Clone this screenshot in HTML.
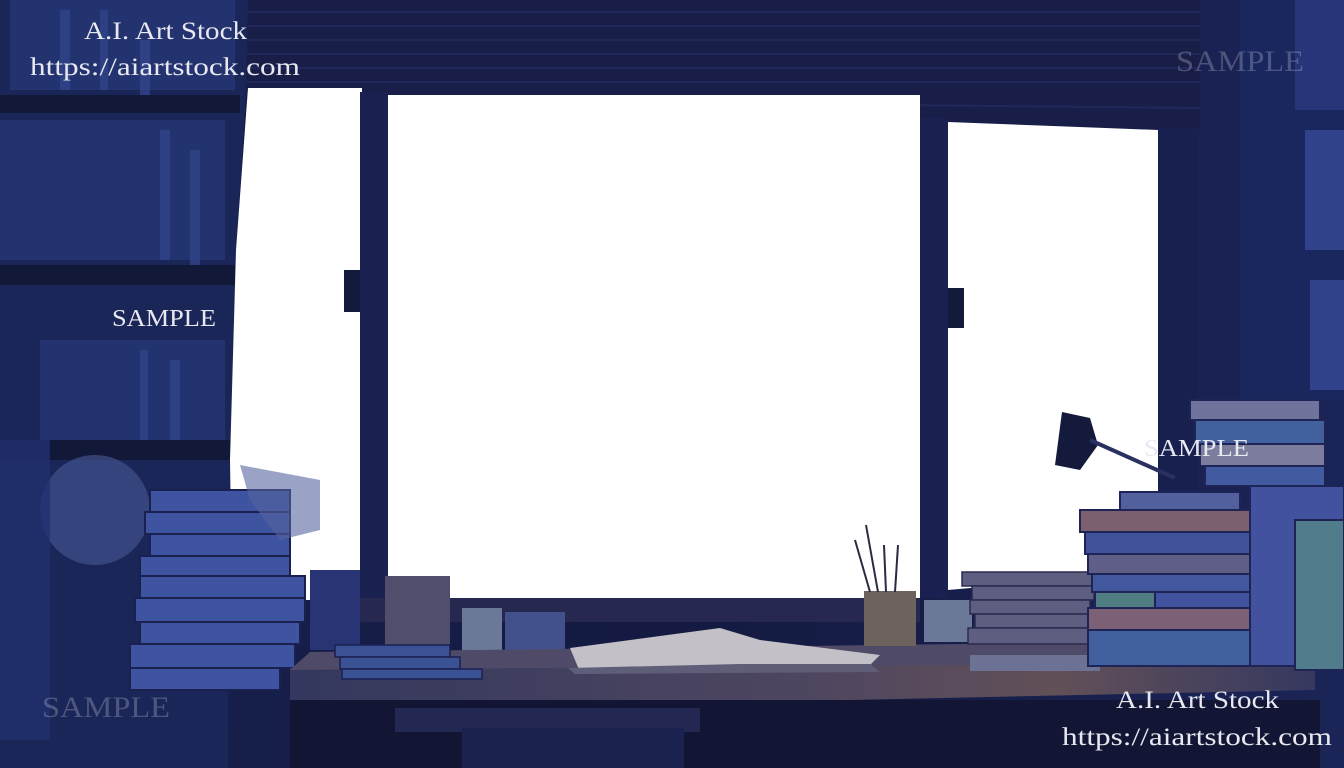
<!DOCTYPE html>
<html><head><meta charset="utf-8"><style>
html,body{margin:0;padding:0;background:#141a3c;}
svg{display:block}
text{font-family:"Liberation Serif",serif;fill:#e8e8f0}
</style></head><body>
<svg width="1344" height="768" viewBox="0 0 1344 768" xmlns="http://www.w3.org/2000/svg">
<defs>
<linearGradient id="bg" x1="0" y1="0" x2="1" y2="0">
<stop offset="0" stop-color="#182050"/><stop offset="0.5" stop-color="#141a40"/><stop offset="1" stop-color="#1a2456"/></linearGradient>
<linearGradient id="desk" x1="0" y1="0" x2="1" y2="0">
<stop offset="0" stop-color="#34385e"/><stop offset="0.5" stop-color="#4e4660"/><stop offset="0.75" stop-color="#625058"/><stop offset="1" stop-color="#363860"/></linearGradient>
</defs>
<rect width="1344" height="768" fill="url(#bg)"/>
<!-- blinds -->
<rect x="245" y="0" width="955" height="130" fill="#181e48"/>
<g stroke="#20285a" stroke-width="2">
<line x1="245" y1="12" x2="1200" y2="12"/><line x1="245" y1="26" x2="1200" y2="26"/><line x1="245" y1="40" x2="1200" y2="40"/><line x1="245" y1="54" x2="1200" y2="54"/><line x1="245" y1="68" x2="1200" y2="68"/><line x1="245" y1="82" x2="1200" y2="82"/><line x1="388" y1="100" x2="1200" y2="108"/>
</g>
<!-- left bookshelf -->
<polygon points="0,0 248,0 246,90 236,250 230,460 228,768 0,768" fill="#1a2558"/>
<g fill="#23336f">
<rect x="10" y="0" width="225" height="90"/><rect x="0" y="120" width="225" height="140"/><rect x="40" y="340" width="185" height="100"/>
</g>
<g fill="#34468e" opacity="0.7">
<rect x="60" y="10" width="10" height="80"/><rect x="100" y="10" width="8" height="80"/><rect x="140" y="40" width="10" height="70"/><rect x="160" y="130" width="10" height="130"/><rect x="190" y="150" width="10" height="120"/><rect x="140" y="350" width="8" height="90"/><rect x="170" y="360" width="10" height="80"/>
</g>
<g fill="#121838"><rect x="0" y="95" width="240" height="18"/><rect x="0" y="265" width="235" height="20"/><rect x="0" y="440" width="232" height="20"/></g>
<!-- window -->
<polygon points="248,88 362,88 362,600 232,600 230,460 236,250" fill="#ffffff"/>
<rect x="388" y="95" width="532" height="508" fill="#ffffff"/>
<polygon points="948,122 1158,130 1172,440 1172,570 948,590" fill="#ffffff"/>
<!-- mullions -->
<rect x="360" y="92" width="28" height="520" fill="#1a2050"/>
<rect x="920" y="118" width="28" height="480" fill="#1a2050"/>
<rect x="344" y="270" width="16" height="42" fill="#141a3c"/>
<rect x="948" y="288" width="16" height="40" fill="#141a3c"/>
<rect x="1158" y="128" width="40" height="460" fill="#182050"/>
<!-- sill -->
<rect x="360" y="598" width="560" height="24" fill="#262850"/>
<!-- left plant -->
<circle cx="95" cy="510" r="55" fill="#4a5a98" opacity="0.6"/>
<rect x="0" y="440" width="50" height="300" fill="#20306e" opacity="0.8"/>
<!-- left book stack -->
<g fill="#3e54a0" stroke="#1a2050" stroke-width="2">
<rect x="150" y="490" width="140" height="22"/><rect x="145" y="512" width="145" height="22"/><rect x="150" y="534" width="140" height="22"/><rect x="140" y="556" width="150" height="20"/><rect x="140" y="576" width="165" height="22"/><rect x="135" y="598" width="170" height="24"/><rect x="140" y="622" width="160" height="22"/><rect x="130" y="644" width="165" height="24"/><rect x="130" y="668" width="150" height="22"/>
</g>
<polygon points="240,465 320,480 320,530 280,540 250,500" fill="#56649e" opacity="0.6"/>
<!-- desk items back -->
<rect x="385" y="576" width="65" height="70" fill="#504e6c"/>
<rect x="310" y="570" width="50" height="80" fill="#283474"/>
<rect x="462" y="608" width="40" height="48" fill="#6c7898"/>
<rect x="505" y="612" width="60" height="44" fill="#42508c"/>
<!-- desk -->
<polygon points="290,668 1315,662 1315,690 290,712" fill="url(#desk)"/>
<polygon points="310,652 1290,640 1300,662 290,670" fill="#4e4a68"/>
<rect x="290" y="700" width="1030" height="68" fill="#121634"/>
<rect x="395" y="708" width="305" height="24" fill="#222852"/>
<rect x="462" y="728" width="222" height="40" fill="#1c2250"/>
<g fill="#3650940" stroke="#1a2050" stroke-width="1.5"><rect x="335" y="645" width="115" height="12" fill="#3a5294"/><rect x="340" y="657" width="120" height="12" fill="#3a5294"/><rect x="342" y="669" width="140" height="10" fill="#3a5294"/></g>
<!-- open book -->
<polygon points="570,648 720,628 760,640 880,655 870,665 740,668 580,672" fill="#c4c0c8"/>
<polygon points="568,668 740,664 870,664 880,672 575,674" fill="#5e5e78"/>
<!-- pencil holder -->
<rect x="864" y="591" width="52" height="55" fill="#6e625e"/>
<g stroke="#2a2a40" stroke-width="2"><line x1="870" y1="592" x2="855" y2="540"/><line x1="878" y1="592" x2="866" y2="525"/><line x1="886" y1="592" x2="884" y2="545"/><line x1="895" y1="592" x2="898" y2="545"/></g>
<rect x="924" y="600" width="48" height="42" fill="#6c7898"/>
<g fill="#5e5e80" stroke="#2a2a50" stroke-width="1.5"><rect x="962" y="572" width="130" height="14"/><rect x="972" y="586" width="122" height="14"/><rect x="970" y="600" width="120" height="14"/><rect x="975" y="614" width="118" height="14"/><rect x="968" y="628" width="122" height="16"/></g>
<rect x="970" y="655" width="130" height="16" fill="#6c7294"/>
<!-- right wall/shelf -->
<rect x="1240" y="0" width="104" height="400" fill="#1a265e"/>
<rect x="1295" y="0" width="49" height="110" fill="#263678"/>
<rect x="1305" y="130" width="39" height="120" fill="#30428a"/>
<rect x="1310" y="280" width="34" height="110" fill="#30428a"/>
<!-- right stacks -->
<g stroke="#1e2456" stroke-width="2">
<rect x="1080" y="510" width="175" height="22" fill="#7c6070"/><rect x="1085" y="532" width="180" height="22" fill="#42529a"/><rect x="1088" y="554" width="175" height="20" fill="#5e5e86"/><rect x="1092" y="574" width="170" height="18" fill="#42589e"/><rect x="1095" y="592" width="60" height="16" fill="#507c84"/><rect x="1155" y="592" width="110" height="16" fill="#42529e"/><rect x="1088" y="608" width="180" height="22" fill="#7c6076"/><rect x="1088" y="630" width="185" height="36" fill="#42609e"/>
<rect x="1120" y="492" width="120" height="18" fill="#52609e"/>
<rect x="1190" y="400" width="130" height="20" fill="#6e749c"/><rect x="1195" y="420" width="130" height="24" fill="#42609e"/><rect x="1200" y="444" width="125" height="22" fill="#7c7c9c"/><rect x="1205" y="466" width="120" height="20" fill="#425aa0"/><rect x="1250" y="486" width="94" height="180" fill="#42529e"/>
<rect x="1295" y="520" width="49" height="150" fill="#507c8c"/>
</g>
<!-- lamp -->
<polygon points="1062,412 1090,418 1098,445 1080,470 1055,465" fill="#141a3c"/>
<line x1="1090" y1="440" x2="1175" y2="478" stroke="#2a3060" stroke-width="4"/>
<!-- text -->
<text x="84" y="39" font-size="25" textLength="163" lengthAdjust="spacingAndGlyphs">A.I. Art Stock</text>
<text x="30" y="75" font-size="25" textLength="270" lengthAdjust="spacingAndGlyphs">https://aiartstock.com</text>
<text x="112" y="326" font-size="24" textLength="104" lengthAdjust="spacingAndGlyphs">SAMPLE</text>
<text x="1144" y="456" font-size="24" textLength="105" lengthAdjust="spacingAndGlyphs">SAMPLE</text>
<text x="1176" y="71" font-size="30" textLength="128" lengthAdjust="spacingAndGlyphs" opacity="0.25">SAMPLE</text>
<text x="42" y="717" font-size="30" textLength="128" lengthAdjust="spacingAndGlyphs" opacity="0.25">SAMPLE</text>
<text x="1116" y="708" font-size="25" textLength="163" lengthAdjust="spacingAndGlyphs">A.I. Art Stock</text>
<text x="1062" y="745" font-size="25" textLength="270" lengthAdjust="spacingAndGlyphs">https://aiartstock.com</text>
</svg>
</body></html>
